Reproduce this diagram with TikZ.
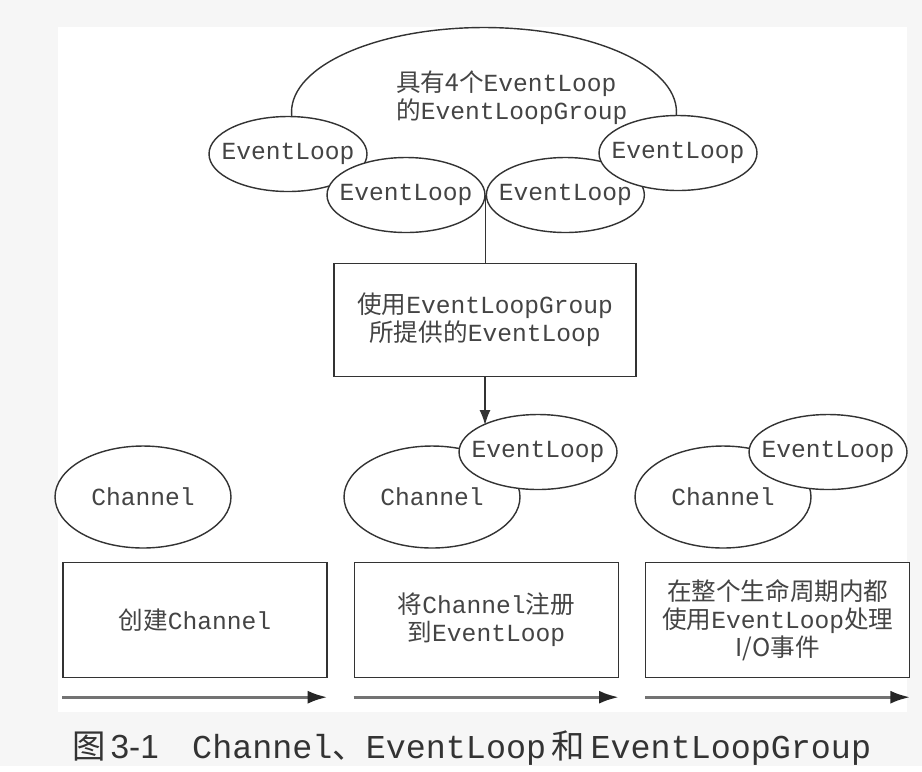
\documentclass[tikz,border=0pt]{standalone}
\usepackage{fontspec}
\setmainfont{Liberation Mono}
\newfontfamily\cjk{Noto Sans CJK SC}
\newfontfamily\capfont{Liberation Sans}
\usetikzlibrary{arrows.meta, positioning, shapes.geometric}
\definecolor{ink}{HTML}{333333}
\definecolor{txt}{HTML}{444444}
\definecolor{paper}{HTML}{F6F6F6}
\newcommand{\zh}[1]{{\cjk #1}}

\begin{document}
\begin{tikzpicture}[
  x=0.02cm, y=-0.02cm,
  font=\fontsize{14}{16}\selectfont, text=txt,
  loop/.style={draw=ink, line width=0.8pt, ellipse, fill=white, inner sep=0pt,
               inner xsep=-8pt, minimum width=3.16cm, minimum height=1.5cm},
  chan/.style={loop, minimum width=3.52cm, minimum height=2.04cm},
  box/.style={draw=ink, line width=0.8pt, fill=white, align=center,
              minimum width=6.04cm, minimum height=2.26cm},
  stepbox/.style={box, minimum width=5.28cm, minimum height=2.3cm},
  arrow/.style={-{Latex[length=3mm, width=2.2mm]}, draw=ink, line width=0.8pt},
  flow/.style={-{Latex[length=4mm, width=2.6mm, color=black!85]}, draw=black!55,
               line width=1.8pt},
  node distance=0.52cm
]
  % page
  \fill[paper] (0,0) rectangle (922,766);
  \fill[white] (58,27) rectangle (907,712);

  % event loop group
  \node[loop, minimum width=7.7cm, minimum height=3.38cm] (group) at (484,112) {};
  \node[align=left, anchor=west] (grouplbl) at (390,98)
        {\zh{具有4个}EventLoop\\\zh{的}EventLoopGroup};
  \node[loop] (el1) at (288,154) {EventLoop};
  \node[loop] (el2) at (406,195) {EventLoop};
  \node[loop, right=0pt of el2] (el3) {EventLoop};
  \node[loop] (el4) at (678,153) {EventLoop};

  % assignment
  \node[box] (use) at (485,320) {\zh{使用}EventLoopGroup\\\zh{所提供的}EventLoop};
  \draw[draw=ink, line width=0.8pt] (el2.east) -- (el2.east |- use.north);

  % steps
  \node[stepbox] (step1) at (195,620) {\zh{创建}Channel};
  \node[stepbox, right=of step1] (step2) {\zh{将}Channel\zh{注册}\\\zh{到}EventLoop};
  \node[stepbox, right=of step2] (step3)
        {\zh{在整个生命周期内都}\\\zh{使用}EventLoop\zh{处理}\\\zh{I/O事件}};

  % channels
  \node[chan] (ch1) at (143,497) {Channel};
  \node[chan] (ch2) at (432,497) {Channel};
  \node[chan] (ch3) at (723,497) {Channel};
  \node[loop] (el5) at ([shift={(106,-45)}]ch2.center) {EventLoop};
  \node[loop] (el6) at ([shift={(105,-45)}]ch3.center) {EventLoop};
  \draw[arrow] (use.south) -- (use.south |- el5.north west);

  % time line
  \foreach \i in {1,2,3} {
    \coordinate (a\i) at ([yshift=-0.38cm]step\i.south west);
    \coordinate (b\i) at ([yshift=-0.38cm]step\i.south east);
    \draw[flow] (a\i) -- (b\i);
  }

  % caption
  \node[anchor=west, font=\fontsize{19}{22}\selectfont, text=black!80] (caption) at (66,748)
        {\zh{图}\hspace{0.15em}{\capfont 3-1}\hspace{1em}Channel\zh{、}EventLoop\,\zh{和}\,EventLoopGroup};
\end{tikzpicture}
\end{document}
